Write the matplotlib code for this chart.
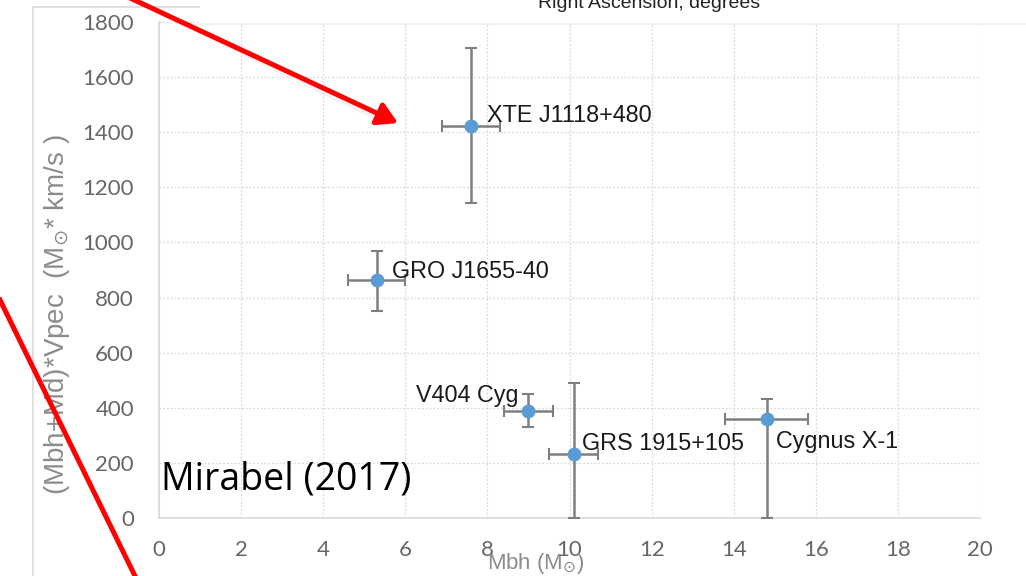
import matplotlib
matplotlib.use("Agg")
import matplotlib.pyplot as plt
from matplotlib.patches import Rectangle, FancyArrowPatch
from matplotlib.lines import Line2D

names = ["XTE J1118+480", "GRO J1655-40", "V404 Cyg", "GRS 1915+105", "Cygnus X-1"]
mbh = [7.6, 5.3, 9.0, 10.1, 14.8]
mom = [1422, 864, 388, 232, 359]
xerr = [0.7, 0.7, 0.6, 0.6, 1.0]
yerr_lo = [280, 112, 58, 232, 359]
yerr_hi = [283, 106, 62, 258, 73]
label_x = [8.0, 5.68, 8.75, 10.3, 15.03]
label_y = [1462, 896, 443, 272, 279]
label_ha = ["left", "left", "right", "left", "left"]
xticks = list(range(0, 21, 2))
yticks = list(range(0, 1801, 200))

W, H = 1026, 576
fig = plt.figure(figsize=(W/100, H/100), dpi=100)
ax = fig.add_axes([159/W, 1-518/H, (980-159)/W, (518-22)/H])
ax.set_xlim(0, 20)
ax.set_ylim(0, 1800)
ax.set_xticks(xticks)
ax.set_yticks(yticks)
ax.grid(True, color="#d9d9d9", linestyle=(0, (1.5, 1.5)), linewidth=0.9)
ax.set_axisbelow(True)
for s in ["top", "right"]:
    ax.spines[s].set_visible(False)
for s in ["left", "bottom"]:
    ax.spines[s].set_color("#d9d9d9")
    ax.spines[s].set_linewidth(1.2)
ax.tick_params(length=0, labelsize=16, labelcolor="#666666")
ax.tick_params(axis="x", pad=16)
ax.tick_params(axis="y", pad=18)
for lab in ax.get_xticklabels() + ax.get_yticklabels():
    lab.set_family("Lato")

ax.errorbar(mbh, mom, xerr=xerr, yerr=[yerr_lo, yerr_hi], fmt="o",
            color="#5B9BD5", markersize=9, ecolor="#7f7f7f", elinewidth=1.8,
            capsize=4, capthick=1.5, zorder=3)
for n, x, y, ha in zip(names, label_x, label_y, label_ha):
    ax.text(x, y, n, ha=ha, va="center", fontsize=16.8, family="Liberation Sans",
            color="#1a1a1a", zorder=4)

ax.text(0.05, 138, "Mirabel (2017)", fontsize=27, family="Open Sans", color="black",
        ha="left", va="center", zorder=4)

fig.text(536/W, 1-563/H, r"Mbh (M$_{\odot}$)", fontsize=16, color="#8c8c8c",
         family="Liberation Sans", ha="center", va="center")
fig.text(57/W, 1-315/H, r"(Mbh+Md)*Vpec  (M$_{\odot}$* km/s )", fontsize=20,
         color="#8c8c8c", family="Liberation Sans", rotation=90, ha="center", va="center")

# frame lines
fig.add_artist(Line2D([33/W, 33/W], [1-7/H, 0], color="#d9d9d9", lw=1.2))
fig.add_artist(Line2D([33/W, 200/W], [1-7/H, 1-7/H], color="#d9d9d9", lw=1.2))

# top band
fig.add_artist(Rectangle((200/W, 1-24/H), 1-200/W, 24/H, facecolor="white",
                         edgecolor="none", zorder=5))
fig.add_artist(Line2D([200/W, 1], [1-24/H, 1-24/H], color="#f0f0f0", lw=1.5, zorder=6))
fig.text(649/W, 1-3/H, "Right Ascension, degrees", fontsize=14, color="#222222",
         family="Liberation Sans", ha="center", va="center", zorder=7)

# red arrows
fig.add_artist(Line2D([(124+3)/W, (385+3)/W], [1+4/H, 1-(119+4)/H], color="#cccccc",
                      lw=4, alpha=0.25, zorder=8))
arr = FancyArrowPatch((122/W, 1.01), (398/W, 1-123/H), transform=fig.transFigure,
                      arrowstyle="-|>,head_length=12,head_width=7", color="#ff0000",
                      lw=3.6, zorder=9, shrinkA=0, shrinkB=0)
fig.add_artist(arr)
fig.add_artist(Line2D([0, 135/W], [1-300/H, 0], color="#ff0000", lw=3.6, zorder=9))

fig.savefig("out.png", dpi=100)
